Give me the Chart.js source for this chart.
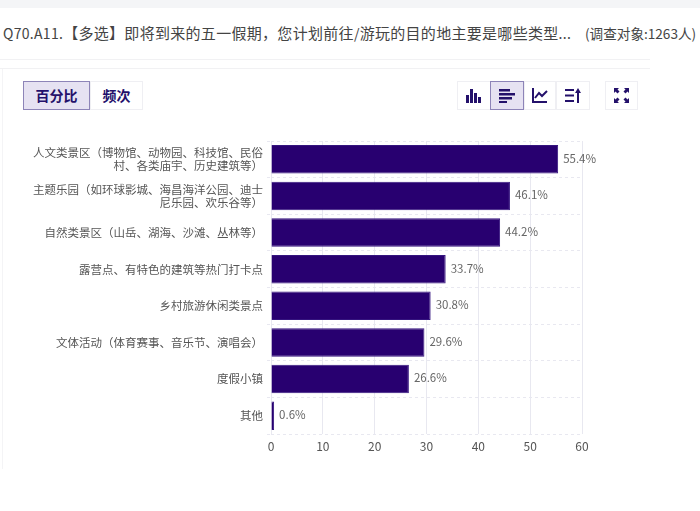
<!DOCTYPE html>
<html lang="zh-CN">
<head>
<meta charset="UTF-8">
<title>Q70.A11</title>
<script src="https://cdn.jsdelivr.net/npm/chart.js"></script>
<style>
    body {
        margin: 0;
        width: 700px;
        height: 511px;
        overflow: hidden;
        background: #fff;
        position: relative;
        font-family: "Noto Sans CJK SC", sans-serif;
    }
    .topbar { position: absolute; left: 0; top: 0; width: 700px; height: 8px; background: #f4f5f7; }
    .title { position: absolute; left: 3px; top: 23px; font-size: 15px; line-height: 20px; letter-spacing: .3px; color: #444; white-space: nowrap; }
    .title span { font-size: 14px; }
    .respondents { position: absolute; left: 585px; top: 23px; font-size: 13.6px; line-height: 20px; color: #444; white-space: nowrap; }
    .sep { position: absolute; left: 0; width: 650px; height: 1px; background: #f1f1f3; }
    .card-left { position: absolute; left: 2px; top: 69px; width: 1px; height: 400px; background: #f4f4f6; }
    .btn {
        position: absolute;
        box-sizing: border-box;
        height: 29px;
        top: 81px;
        border: 1px solid #efeff3;
        background: #fff;
        color: #24116b;
        font-size: 14px;
        font-weight: 700;
        line-height: 27px;
        text-align: center;
    }
    .btn.on { background: #e6e2f2; border-color: #8d84b8; }
    .btn svg { display: block; margin: 6px auto 0; }
    #wrap { position: absolute; left: 0; top: 130px; width: 650px; height: 330px; }
</style>
</head>
<body>
<div class="topbar"></div>
<div class="title"><span>Q70.A11.</span>【多选】即将到来的五一假期，您计划前往<span>/</span>游玩的目的地主要是哪些类型<span>...</span></div>
<div class="respondents">(调查对象:1263人)</div>
<div class="sep" style="top:59px"></div>
<div class="sep" style="top:68px"></div>
<div class="card-left"></div>

<div class="btn on" style="left:23px;width:67px">百分比</div>
<div class="btn" style="left:90px;width:53px">频次</div>

<div class="btn" style="left:457px;width:34px"><svg width="16" height="15" fill="#24116b"><rect x="0" y="7" width="3" height="8"/><rect x="4" y="1" width="3" height="14"/><rect x="8" y="5" width="3" height="10"/><rect x="12" y="9" width="3" height="6"/></svg></div>
<div class="btn on" style="left:490px;width:34px"><svg width="16" height="15" fill="#24116b"><rect x="0" y="1" width="11" height="2.5"/><rect x="0" y="5" width="16" height="2.5"/><rect x="0" y="9" width="13" height="2.5"/><rect x="0" y="13" width="8" height="2"/></svg></div>
<div class="btn" style="left:524px;width:32px"><svg width="16" height="15" fill="none" stroke="#24116b" stroke-width="2"><path d="M1 0V14H15"/><path d="M3 10L7 5L10 8L15 3"/></svg></div>
<div class="btn" style="left:556px;width:34px"><svg width="16" height="15" fill="#24116b"><rect x="0" y="1" width="9" height="2"/><rect x="0" y="6.500" width="9" height="2"/><rect x="0" y="12" width="9" height="2"/><rect x="12" y="4" width="2" height="11"/><path d="M10 5L13 0L16 5Z"/></svg></div>
<div class="btn" style="left:605px;width:33px"><svg width="15" height="15" fill="#24116b"><path d="M0 0H5L3.500 1.500L5.500 3.500L3.500 5.500L1.500 3.500L0 5Z"/><path d="M15 0H10L11.500 1.500L9.500 3.500L11.500 5.500L13.500 3.500L15 5Z"/><path d="M0 15H5L3.500 13.500L5.500 11.500L3.500 9.500L1.500 11.500L0 10Z"/><path d="M15 15H10L11.500 13.500L9.500 11.500L11.500 9.500L13.500 11.500L15 10Z"/></svg></div>

<div id="wrap"><canvas id="chart"></canvas></div>

<script>
    const categories = [
        ['人文类景区（博物馆、动物园、科技馆、民俗', '村、各类庙宇、历史建筑等）'],
        ['主题乐园（如环球影城、海昌海洋公园、迪士', '尼乐园、欢乐谷等）'],
        '自然类景区（山岳、湖海、沙滩、丛林等）',
        '露营点、有特色的建筑等热门打卡点',
        '乡村旅游休闲类景点',
        '文体活动（体育赛事、音乐节、演唱会）',
        '度假小镇',
        '其他'
    ];
    const percents = [55.4, 46.1, 44.2, 33.7, 30.8, 29.6, 26.6, 0.6];
    const xTicks = [0, 10, 20, 30, 40, 50, 60];

    const fontFamily = '"Noto Sans CJK SC", sans-serif';

    // value labels at the end of each bar
    const barLabels = {
        id: 'barLabels',
        afterDatasetsDraw(chart) {
            const ctx = chart.ctx;
            ctx.save();
            ctx.font = '11.5px ' + fontFamily;
            ctx.fillStyle = '#666';
            ctx.textAlign = 'left';
            ctx.textBaseline = 'middle';
            chart.getDatasetMeta(0).data.forEach((bar, i) => {
                ctx.fillText(percents[i].toFixed(1) + '%', bar.x + 5, bar.y - 1);
            });
            ctx.restore();
        }
    };

    new Chart(document.getElementById('chart').getContext('2d'), {
        type: 'bar',
        data: {
            labels: categories,
            datasets: [{
                data: percents,
                backgroundColor: '#280070',
                borderColor: '#35157f',
                borderWidth: 1,
                categoryPercentage: 0.78,
                barPercentage: 1
            }]
        },
        options: {
            indexAxis: 'y',
            responsive: true,
            maintainAspectRatio: false,
            animation: false,
            layout: { padding: { top: 11, right: 68 } },
            plugins: { legend: { display: false }, tooltip: { enabled: false } },
            scales: {
                x: {
                    min: 0,
                    max: 60,
                    afterFit(axis) { axis.height = 26; },
                    afterBuildTicks(axis) { axis.ticks = xTicks.map(v => ({ value: v })); },
                    grid: { color: '#e8e8f0', drawTicks: false },
                    border: { display: false },
                    ticks: { color: '#555', padding: 5, maxRotation: 0, font: { family: fontFamily, size: 12 } }
                },
                y: {
                    afterFit(axis) {
                        axis.width = 271;
                        axis.paddingTop = 0;
                        axis.paddingBottom = 0;
                    },
                    grid: { color: '#e8e8f0', tickLength: 4, tickBorderDash: [3, 3] },
                    border: { display: false, dash: [3, 3] },
                    ticks: {
                        color: '#555',
                        padding: 4,
                        autoSkip: false,
                        font: { family: fontFamily, size: 11.5, lineHeight: 1.08 }
                    }
                }
            }
        },
        plugins: [barLabels]
    });
</script>
</body>
</html>
